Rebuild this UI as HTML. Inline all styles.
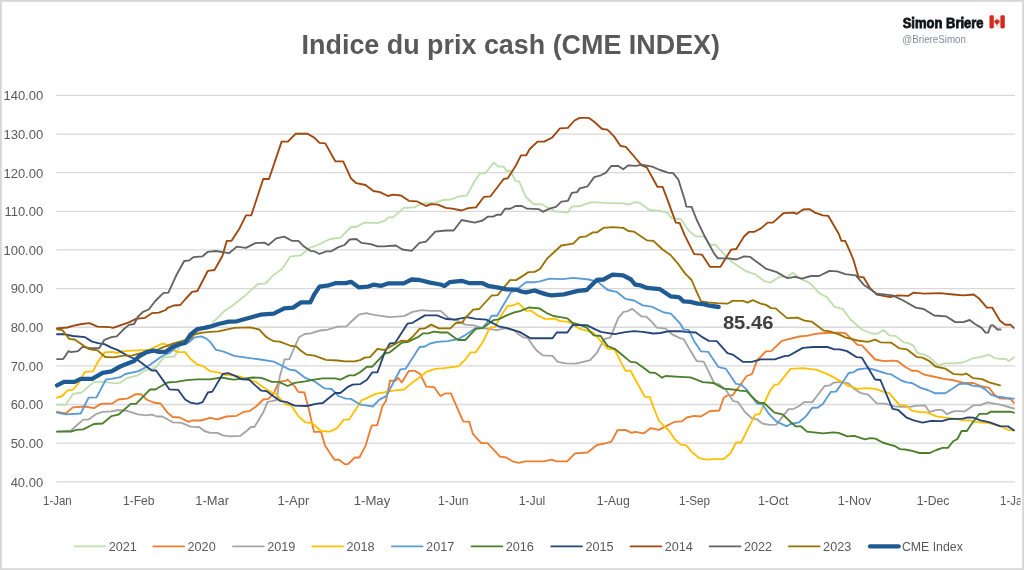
<!DOCTYPE html>
<html><head><meta charset="utf-8"><style>
html,body{margin:0;padding:0;background:#fff;}
body{width:1024px;height:570px;overflow:hidden;}
svg{display:block;filter:blur(0.3px);}
</style></head><body>
<svg width="1024" height="570" viewBox="0 0 1024 570" style="font-family:'Liberation Sans',sans-serif">
<rect x="0" y="0" width="1024" height="570" fill="#fff"/>

<line x1="56.2" y1="481.80" x2="1015" y2="481.80" stroke="#d9d9d9" stroke-width="1.3"/>
<text x="43.2" y="486.6" text-anchor="end" font-size="13" fill="#595959">40.00</text>
<line x1="56.2" y1="443.16" x2="1015" y2="443.16" stroke="#d9d9d9" stroke-width="1.3"/>
<text x="43.2" y="448.0" text-anchor="end" font-size="13" fill="#595959">50.00</text>
<line x1="56.2" y1="404.52" x2="1015" y2="404.52" stroke="#d9d9d9" stroke-width="1.3"/>
<text x="43.2" y="409.3" text-anchor="end" font-size="13" fill="#595959">60.00</text>
<line x1="56.2" y1="365.88" x2="1015" y2="365.88" stroke="#d9d9d9" stroke-width="1.3"/>
<text x="43.2" y="370.7" text-anchor="end" font-size="13" fill="#595959">70.00</text>
<line x1="56.2" y1="327.24" x2="1015" y2="327.24" stroke="#d9d9d9" stroke-width="1.3"/>
<text x="43.2" y="332.0" text-anchor="end" font-size="13" fill="#595959">80.00</text>
<line x1="56.2" y1="288.60" x2="1015" y2="288.60" stroke="#d9d9d9" stroke-width="1.3"/>
<text x="43.2" y="293.4" text-anchor="end" font-size="13" fill="#595959">90.00</text>
<line x1="56.2" y1="249.96" x2="1015" y2="249.96" stroke="#d9d9d9" stroke-width="1.3"/>
<text x="43.2" y="254.8" text-anchor="end" font-size="13" fill="#595959">100.00</text>
<line x1="56.2" y1="211.32" x2="1015" y2="211.32" stroke="#d9d9d9" stroke-width="1.3"/>
<text x="43.2" y="216.1" text-anchor="end" font-size="13" fill="#595959">110.00</text>
<line x1="56.2" y1="172.68" x2="1015" y2="172.68" stroke="#d9d9d9" stroke-width="1.3"/>
<text x="43.2" y="177.5" text-anchor="end" font-size="13" fill="#595959">120.00</text>
<line x1="56.2" y1="134.04" x2="1015" y2="134.04" stroke="#d9d9d9" stroke-width="1.3"/>
<text x="43.2" y="138.8" text-anchor="end" font-size="13" fill="#595959">130.00</text>
<line x1="56.2" y1="95.40" x2="1015" y2="95.40" stroke="#d9d9d9" stroke-width="1.3"/>
<text x="43.2" y="100.2" text-anchor="end" font-size="13" fill="#595959">140.00</text>
<g font-size="13" fill="#595959" text-anchor="middle">
<text x="57.4" y="504.9" textLength="28.7" lengthAdjust="spacingAndGlyphs">1-Jan</text>
<text x="138.7" y="504.9" textLength="31.6" lengthAdjust="spacingAndGlyphs">1-Feb</text>
<text x="212.1" y="504.9" textLength="33.7" lengthAdjust="spacingAndGlyphs">1-Mar</text>
<text x="293.4" y="504.9" textLength="31.9" lengthAdjust="spacingAndGlyphs">1-Apr</text>
<text x="372.0" y="504.9" textLength="36.6" lengthAdjust="spacingAndGlyphs">1-May</text>
<text x="453.3" y="504.9" textLength="30.4" lengthAdjust="spacingAndGlyphs">1-Jun</text>
<text x="532.0" y="504.9" textLength="26.7" lengthAdjust="spacingAndGlyphs">1-Jul</text>
<text x="613.3" y="504.9" textLength="32.9" lengthAdjust="spacingAndGlyphs">1-Aug</text>
<text x="694.5" y="504.9" textLength="31.2" lengthAdjust="spacingAndGlyphs">1-Sep</text>
<text x="773.2" y="504.9" textLength="30.5" lengthAdjust="spacingAndGlyphs">1-Oct</text>
<text x="854.5" y="504.9" textLength="33.5" lengthAdjust="spacingAndGlyphs">1-Nov</text>
<text x="933.1" y="504.9" textLength="32.5" lengthAdjust="spacingAndGlyphs">1-Dec</text>
<text x="1014.4" y="504.9" textLength="28.7" lengthAdjust="spacingAndGlyphs">1-Jan</text>
</g>
<g fill="none" stroke-linejoin="round" stroke-linecap="round">
<path d="M57.0,404.7 L65.8,404.7 L72.8,393.9 L81.6,392.5 L93.9,381.9 L102.6,381.6 L114.9,383.3 L120.2,382.8 L127.2,378.1 L137.7,375.3 L144.7,370.5 L155.3,367.9 L164.0,357.4 L174.6,356.5 L179.8,346.0 L188.6,341.6 L195.6,332.8 L202.6,329.3 L210.0,327.5 L213.2,322.1 L223.7,311.6 L231.6,306.3 L243.4,297.1 L257.9,284.0 L265.8,283.4 L273.7,274.7 L281.6,269.5 L290.5,256.3 L301.0,255.3 L309.0,248.2 L316.8,245.5 L330.0,239.0 L340.5,237.6 L351.0,227.0 L356.3,227.0 L364.2,222.6 L377.4,223.2 L385.3,220.5 L388.0,217.4 L393.2,217.4 L403.7,207.9 L414.2,207.4 L422.1,203.4 L435.3,202.6 L443.2,200.0 L451.0,199.5 L459.0,196.3 L466.8,195.5 L474.7,181.0 L480.0,173.2 L485.3,173.2 L493.7,162.6 L498.4,166.6 L503.7,166.6 L506.3,171.0 L510.3,170.5 L515.5,181.0 L519.2,181.6 L525.8,196.8 L533.7,204.2 L541.6,204.2 L554.7,211.3 L567.9,212.6 L571.8,206.6 L579.7,206.0 L591.6,202.1 L604.7,202.9 L623.2,203.4 L628.4,204.7 L635.0,202.1 L639.0,202.6 L649.5,210.0 L660.0,210.8 L667.9,213.2 L671.8,218.4 L681.0,219.2 L689.0,231.0 L695.5,236.3 L703.4,236.3 L710.0,244.7 L715.3,244.7 L728.4,258.9 L739.0,266.8 L745.3,270.8 L755.8,274.7 L763.7,280.8 L770.3,282.6 L779.5,276.8 L787.4,276.8 L792.6,272.6 L800.5,278.7 L811.0,283.9 L819.0,293.2 L826.8,297.1 L834.7,306.8 L842.6,308.9 L850.5,319.5 L861.0,328.7 L862.8,330.0 L871.6,333.5 L876.8,333.9 L883.9,330.0 L889.1,335.3 L896.1,336.1 L903.2,342.3 L908.4,343.2 L913.7,345.8 L917.2,352.8 L924.2,354.6 L929.5,357.2 L938.2,365.1 L945.3,363.3 L954.0,363.3 L962.8,362.5 L973.3,358.1 L980.4,357.2 L989.1,354.6 L994.4,358.1 L1000.0,358.9 L1005.9,359.0 L1009.0,361.1 L1014.3,357.3" stroke="#c0deae" stroke-width="1.85"/>
<path d="M57.0,411.8 L65.8,413.5 L72.8,407.4 L85.1,406.5 L93.9,408.2 L100.9,403.9 L112.3,403.5 L118.4,399.5 L127.2,398.6 L136.0,394.2 L141.2,394.2 L146.5,399.5 L153.5,402.5 L160.5,403.5 L167.5,412.6 L172.8,417.0 L179.8,417.5 L188.6,421.8 L192.1,420.5 L200.9,420.5 L210.0,417.9 L217.5,419.3 L226.3,416.5 L236.8,415.8 L243.9,411.8 L249.1,411.2 L256.1,406.5 L263.2,399.5 L268.4,398.9 L273.7,393.3 L278.9,381.9 L286.0,380.7 L287.7,379.6 L294.7,386.3 L298.2,391.9 L304.4,392.5 L308.8,409.1 L314.0,431.9 L321.1,431.9 L325.0,445.6 L334.4,459.7 L339.0,459.7 L345.3,464.4 L348.4,463.8 L354.7,457.5 L359.4,457.5 L365.6,445.6 L370.3,430.0 L371.9,425.3 L377.2,425.3 L382.5,406.0 L386.0,400.7 L390.0,380.7 L395.6,380.7 L398.2,377.9 L401.8,382.5 L408.8,370.9 L414.9,370.9 L420.2,374.0 L426.3,386.7 L434.2,387.2 L440.4,396.0 L445.6,393.3 L450.9,393.3 L457.0,407.4 L463.2,421.4 L469.3,421.8 L472.8,433.7 L475.0,436.3 L481.3,443.1 L487.5,443.1 L500.0,456.6 L506.3,457.5 L512.5,461.3 L518.8,462.8 L525.0,461.3 L543.8,461.3 L551.6,459.7 L556.3,461.3 L567.2,461.3 L575.0,453.4 L587.5,452.5 L596.9,445.0 L606.3,443.1 L611.4,441.6 L617.5,430.2 L625.4,429.8 L631.6,432.8 L635.1,431.9 L643.9,433.3 L650.9,428.1 L658.8,429.8 L665.8,426.3 L674.6,421.8 L681.6,421.4 L686.8,417.5 L693.9,415.8 L700.9,416.5 L709.6,411.2 L719.3,410.5 L723.7,397.7 L727.2,395.4 L732.5,395.4 L737.9,388.2 L746.7,376.0 L751.9,374.2 L757.2,360.2 L766.0,351.4 L771.2,351.1 L781.8,340.9 L788.8,339.1 L799.3,336.5 L808.1,335.6 L815.1,333.9 L825.6,333.0 L840.0,332.6 L845.3,333.2 L852.3,339.6 L857.5,344.9 L861.9,345.4 L875.1,359.5 L883.9,361.2 L892.6,360.7 L897.9,361.2 L904.9,366.8 L911.9,370.7 L917.2,370.7 L924.2,374.7 L933.0,376.5 L945.3,379.1 L952.3,380.0 L962.8,382.6 L973.3,383.0 L980.4,385.8 L989.1,387.9 L994.4,394.9 L1000.0,398.4 L1001.7,398.6 L1008.0,398.6 L1011.1,399.4 L1013.9,402.8" stroke="#ed7d31" stroke-width="1.85"/>
<path d="M57.0,431.6 L71.0,430.5 L76.3,425.8 L83.3,419.6 L88.6,419.6 L95.6,414.4 L102.6,411.8 L111.4,411.4 L118.4,410.0 L127.2,410.9 L137.7,414.4 L146.5,415.3 L151.8,414.7 L157.0,416.5 L162.3,416.5 L172.8,422.3 L181.6,422.8 L190.4,426.7 L199.1,427.0 L204.4,431.0 L210.0,432.8 L217.5,432.8 L222.8,435.4 L229.8,436.3 L240.4,435.8 L247.4,430.2 L250.9,427.0 L254.4,427.0 L263.2,412.6 L267.5,401.8 L271.9,401.2 L276.8,400.0 L279.7,376.9 L284.5,359.5 L289.3,359.1 L295.1,346.0 L299.0,337.3 L304.7,334.0 L310.5,333.4 L320.2,330.5 L327.9,329.6 L337.6,326.7 L346.3,326.3 L353.0,320.0 L358.8,314.7 L366.5,313.2 L370.0,314.1 L377.5,315.4 L389.8,317.2 L403.9,316.1 L412.6,311.9 L421.4,310.2 L430.2,310.9 L440.7,310.9 L447.7,317.5 L458.2,321.1 L465.3,324.6 L474.0,325.4 L482.8,328.1 L496.8,330.2 L505.6,328.1 L514.4,330.7 L520.0,335.3 L523.5,337.4 L527.9,338.2 L533.2,346.1 L536.7,350.5 L542.8,355.3 L552.5,355.8 L557.7,361.9 L565.6,363.3 L576.1,363.7 L590.2,360.2 L597.2,352.3 L604.2,339.1 L610.4,337.4 L618.2,318.1 L623.5,311.9 L627.0,311.4 L632.3,308.9 L641.1,316.3 L646.3,316.7 L651.6,321.6 L656.8,327.7 L665.6,328.6 L672.6,334.7 L680.0,338.2 L683.5,339.1 L688.8,347.9 L696.7,361.1 L703.7,361.6 L708.1,370.7 L714.2,383.0 L719.5,384.7 L725.6,389.6 L733.3,401.2 L737.7,401.8 L744.7,411.8 L751.8,418.2 L757.0,419.3 L762.3,423.5 L769.3,424.9 L776.3,424.6 L781.6,417.9 L788.6,409.1 L793.9,408.8 L799.1,406.0 L804.4,402.1 L812.3,402.1 L824.6,386.0 L829.8,385.4 L833.3,382.8 L840.0,381.8 L848.8,383.5 L854.0,388.8 L861.1,393.2 L868.1,394.6 L876.8,403.3 L885.6,403.7 L894.4,406.3 L901.4,406.8 L910.2,406.8 L915.4,405.8 L925.1,405.4 L929.5,412.1 L936.5,409.8 L941.8,409.8 L947.0,414.2 L954.0,411.1 L961.1,411.1 L964.6,411.6 L973.3,405.4 L980.4,405.1 L987.4,402.3 L994.4,403.7 L1000.0,404.6 L1013.9,408.5" stroke="#a5a5a5" stroke-width="1.85"/>
<path d="M57.0,397.7 L62.3,396.0 L67.5,390.4 L72.8,389.8 L78.1,383.7 L85.1,371.8 L93.0,371.4 L97.4,362.6 L104.4,352.5 L113.2,351.8 L116.7,353.0 L123.7,351.2 L137.7,350.4 L148.2,350.0 L155.3,346.8 L162.3,343.7 L165.8,344.2 L172.8,350.0 L178.1,352.1 L185.1,352.1 L190.4,358.8 L197.4,364.7 L202.6,365.8 L210.0,371.1 L219.3,372.6 L224.6,374.9 L231.6,375.4 L240.4,376.7 L247.4,379.6 L256.1,381.9 L263.2,387.2 L271.9,392.5 L275.4,393.7 L282.5,401.2 L286.0,404.7 L291.2,405.3 L298.2,416.1 L305.3,422.3 L312.3,423.2 L321.1,431.0 L329.8,431.6 L336.8,428.4 L343.9,419.6 L349.1,419.6 L356.1,409.1 L361.4,400.4 L363.5,399.6 L375.8,393.9 L382.8,392.6 L395.1,390.4 L403.9,389.5 L412.6,382.5 L419.6,377.2 L426.7,371.6 L435.4,368.8 L444.2,368.1 L458.2,366.3 L465.3,359.6 L470.5,352.3 L475.8,352.3 L482.8,342.1 L489.8,327.7 L495.1,327.2 L499.0,318.8 L507.6,305.9 L512.5,305.5 L518.6,303.1 L526.0,310.8 L530.9,310.4 L537.1,315.1 L540.0,316.3 L544.6,318.9 L555.1,318.9 L560.4,321.2 L567.4,321.6 L572.6,323.7 L579.6,328.9 L586.7,330.7 L593.7,333.0 L600.7,340.9 L607.7,348.8 L614.7,349.6 L621.8,363.7 L625.3,370.7 L630.5,370.7 L641.1,390.0 L644.7,396.8 L650.0,397.2 L653.5,407.4 L658.8,420.5 L664.0,426.3 L669.3,431.0 L674.6,439.0 L680.7,444.6 L686.0,445.1 L692.1,452.1 L699.1,458.2 L706.1,459.6 L713.2,459.1 L723.7,459.1 L730.7,453.0 L736.0,442.5 L741.2,442.5 L748.2,428.4 L755.3,414.4 L759.6,414.4 L765.8,399.5 L770.4,390.0 L774.7,384.7 L778.2,384.4 L790.5,368.9 L802.8,368.1 L816.8,369.8 L827.4,374.2 L834.4,377.7 L840.0,380.9 L847.0,385.3 L857.5,388.8 L866.3,388.2 L875.1,388.8 L883.9,391.8 L889.1,393.2 L899.6,405.1 L906.7,405.8 L911.9,410.7 L918.9,412.1 L926.0,412.1 L936.5,416.3 L945.3,417.7 L954.0,418.6 L962.8,420.4 L969.8,420.4 L976.8,422.1 L989.1,423.0 L1000.0,426.1 L1002.7,427.5 L1009.0,430.2 L1013.9,430.6" stroke="#ffc000" stroke-width="1.85"/>
<path d="M57.0,412.6 L65.8,414.4 L80.7,413.5 L88.6,397.7 L96.5,397.4 L106.1,379.3 L111.4,378.9 L120.2,377.2 L125.4,374.0 L137.7,371.4 L148.2,366.1 L155.3,360.9 L162.3,356.0 L169.3,353.0 L176.3,347.2 L183.3,343.0 L188.6,342.5 L193.9,337.7 L200.9,336.3 L206.1,338.4 L210.0,341.6 L215.8,349.7 L223.7,351.6 L234.2,355.8 L250.0,358.2 L260.5,359.5 L273.7,361.6 L281.6,365.5 L289.5,369.6 L295.6,370.5 L305.3,377.9 L314.0,381.1 L324.6,388.4 L331.6,389.0 L338.6,396.0 L345.6,398.6 L350.9,398.9 L360.5,404.7 L367.5,405.6 L372.8,406.5 L379.3,399.6 L386.3,396.1 L400.4,369.3 L405.6,368.8 L419.6,347.0 L424.9,346.5 L430.2,343.5 L437.2,341.8 L447.7,341.2 L458.2,339.0 L465.3,335.1 L475.8,328.1 L482.8,327.7 L489.1,320.0 L491.6,315.7 L497.1,315.7 L511.3,291.8 L514.9,291.2 L519.9,286.9 L526.0,282.2 L534.6,282.2 L540.0,281.3 L549.5,278.7 L562.6,279.2 L573.2,277.9 L589.0,279.5 L598.2,282.1 L607.7,290.0 L616.5,291.8 L625.3,298.8 L634.0,300.5 L642.8,305.4 L651.6,306.7 L663.9,312.5 L670.9,313.7 L680.0,323.3 L683.5,329.5 L688.8,330.0 L694.0,340.9 L701.1,351.4 L708.1,351.8 L718.6,367.2 L725.6,368.6 L736.1,383.9 L741.4,384.7 L746.7,389.6 L750.0,394.2 L757.0,403.5 L762.3,404.2 L769.3,414.4 L776.3,421.4 L786.8,426.3 L790.4,424.0 L799.1,422.3 L806.1,416.1 L812.3,407.7 L817.5,407.7 L822.8,403.9 L830.7,391.9 L836.0,391.6 L840.0,386.1 L848.8,373.0 L854.0,372.1 L857.5,369.5 L868.1,368.2 L875.1,370.0 L887.4,373.9 L890.9,374.2 L901.4,380.5 L906.7,382.3 L911.9,383.0 L920.7,387.9 L927.7,390.0 L934.7,393.2 L945.3,393.2 L952.3,388.8 L959.3,384.0 L966.3,383.5 L973.3,385.8 L980.4,386.5 L985.6,389.6 L990.9,394.6 L997.9,397.0 L1000.0,396.7 L1005.9,398.0 L1013.9,398.6" stroke="#5b9bd5" stroke-width="1.85"/>
<path d="M57.0,431.6 L71.0,431.6 L76.3,429.8 L83.3,429.3 L93.9,424.0 L102.6,423.5 L111.4,416.1 L118.4,414.7 L130.7,403.9 L136.0,403.9 L150.0,389.5 L155.3,389.5 L167.5,382.5 L176.3,381.9 L186.8,380.2 L197.4,379.3 L210.0,379.3 L221.1,377.5 L233.3,379.6 L242.1,378.9 L252.6,377.5 L261.4,377.9 L271.9,381.9 L278.9,381.9 L287.7,386.0 L294.7,382.8 L305.3,381.4 L314.0,379.6 L322.8,378.4 L335.1,378.4 L340.4,379.6 L349.1,375.4 L354.4,375.4 L360.0,372.3 L367.0,366.7 L372.3,366.7 L384.6,353.5 L389.8,352.3 L402.1,342.5 L407.4,342.1 L417.9,337.2 L423.2,333.3 L428.4,333.3 L433.7,331.6 L440.7,332.5 L447.7,332.5 L454.7,337.7 L458.2,340.0 L465.3,340.0 L475.8,328.9 L482.8,328.1 L493.3,320.2 L498.6,319.3 L505.6,315.8 L514.4,312.3 L520.0,311.1 L528.8,307.5 L539.3,308.4 L546.3,312.8 L553.3,316.0 L560.4,317.2 L567.4,318.4 L572.6,323.0 L577.9,324.2 L586.7,327.7 L593.7,335.3 L600.7,336.0 L607.7,346.1 L614.7,348.8 L625.3,357.5 L630.5,361.9 L635.8,362.3 L642.8,367.2 L649.8,372.5 L655.1,372.8 L662.1,377.7 L665.6,376.0 L680.0,376.8 L690.5,377.4 L702.8,382.1 L713.3,383.0 L723.9,388.6 L737.9,390.0 L739.5,390.7 L746.5,391.2 L755.3,400.0 L759.6,403.0 L764.0,403.0 L774.6,412.6 L782.5,414.4 L790.4,421.8 L795.6,426.3 L800.9,426.3 L807.0,431.6 L814.0,432.3 L822.8,433.3 L833.3,432.3 L838.6,432.8 L847.4,436.3 L854.4,435.8 L864.9,439.3 L870.2,438.1 L875.4,438.6 L882.5,442.5 L889.5,444.6 L894.7,446.0 L900.0,449.1 L905.3,449.5 L912.3,450.9 L919.3,453.0 L929.8,453.0 L936.3,450.0 L942.6,447.9 L947.9,447.9 L953.2,441.2 L957.4,439.0 L961.6,431.0 L966.9,431.0 L972.1,423.2 L979.5,413.8 L986.9,413.8 L991.1,411.7 L1009.8,411.7 L1013.9,412.7" stroke="#4b7f2a" stroke-width="1.85"/>
<path d="M57.0,334.2 L64.0,334.2 L72.8,336.0 L85.1,337.2 L92.1,341.6 L99.1,343.3 L104.4,344.2 L111.4,347.7 L118.4,350.4 L128.9,356.5 L137.7,360.0 L144.7,365.3 L151.8,370.5 L156.1,370.5 L164.0,381.6 L169.3,389.3 L178.1,389.8 L185.1,399.5 L190.4,402.6 L197.4,403.9 L202.6,402.1 L207.9,392.5 L212.3,391.6 L222.8,374.0 L228.1,373.2 L235.1,375.8 L242.1,379.3 L249.1,379.6 L254.4,384.6 L261.4,390.7 L266.7,391.2 L273.7,396.5 L280.7,401.2 L286.0,401.8 L294.7,405.6 L307.0,406.0 L315.8,403.9 L322.8,403.0 L335.1,393.0 L340.4,393.0 L347.4,387.2 L352.6,384.6 L360.0,384.2 L367.0,379.8 L372.3,372.3 L377.5,372.3 L384.6,352.6 L389.8,343.5 L395.1,343.0 L407.4,323.7 L412.6,322.8 L424.9,315.4 L437.2,315.4 L446.0,319.0 L454.7,319.6 L467.0,317.2 L475.8,318.9 L486.3,319.6 L498.6,326.3 L507.4,328.1 L520.0,332.1 L530.5,338.2 L552.5,338.2 L556.8,332.5 L567.4,332.5 L572.6,325.1 L586.7,325.1 L593.7,328.6 L600.7,331.8 L614.7,334.2 L625.3,332.1 L634.0,331.2 L642.8,331.8 L653.3,333.5 L660.4,333.0 L669.1,331.2 L680.0,331.2 L685.3,331.8 L695.8,332.5 L702.8,337.4 L708.9,340.9 L716.8,341.2 L727.4,353.2 L732.6,354.6 L743.2,361.9 L751.9,361.9 L760.7,359.3 L774.7,359.3 L785.3,355.8 L788.8,355.8 L802.8,347.9 L813.3,347.0 L827.4,347.0 L834.4,349.3 L840.0,349.3 L847.0,351.1 L856.7,357.2 L861.9,357.7 L875.1,379.5 L880.4,380.0 L892.6,408.9 L897.9,409.8 L906.7,417.7 L913.7,420.4 L922.5,422.6 L931.2,420.9 L941.8,421.2 L948.8,419.1 L962.8,418.6 L968.1,417.4 L973.3,417.7 L980.4,420.4 L989.1,422.1 L1000.0,426.1 L1008.0,426.4 L1013.9,430.2" stroke="#264478" stroke-width="1.85"/>
<path d="M57.0,328.4 L67.5,327.5 L72.8,325.8 L81.6,324.0 L89.5,323.2 L97.4,326.7 L109.6,327.2 L113.2,327.9 L120.2,325.4 L128.9,322.3 L136.0,318.8 L144.7,317.9 L151.8,313.2 L158.8,312.6 L165.8,310.0 L167.1,308.2 L173.7,305.5 L180.3,305.0 L185.5,299.0 L192.1,291.8 L197.4,291.0 L207.9,270.8 L214.5,270.0 L222.4,256.0 L226.8,240.8 L231.6,240.8 L239.5,228.4 L246.0,215.3 L251.3,215.3 L263.2,179.0 L269.0,179.0 L281.6,141.6 L287.9,141.6 L295.8,133.7 L307.6,133.7 L314.2,137.6 L319.5,142.9 L325.3,143.4 L335.3,161.3 L343.2,161.3 L351.0,178.4 L356.3,183.2 L365.5,185.0 L373.4,191.0 L380.0,192.1 L387.9,196.0 L393.2,194.7 L401.0,195.5 L408.9,200.8 L416.8,201.3 L426.0,206.0 L431.3,204.2 L437.9,204.7 L445.8,207.9 L452.4,208.7 L461.6,210.5 L468.2,208.2 L476.0,207.4 L484.0,196.8 L490.5,196.3 L503.7,179.0 L507.6,178.4 L515.3,166.6 L521.0,155.3 L526.3,155.3 L529.7,149.0 L537.6,141.6 L544.2,141.6 L552.1,137.6 L560.0,128.4 L567.9,127.9 L574.5,120.5 L579.7,117.9 L589.0,117.9 L594.2,121.8 L602.1,129.0 L607.4,129.7 L614.0,136.3 L620.5,146.0 L625.8,146.8 L633.7,156.0 L641.6,165.3 L646.8,167.4 L657.4,186.8 L662.6,186.8 L667.9,200.8 L675.8,222.6 L679.7,223.2 L685.0,235.8 L694.2,254.2 L702.1,254.7 L710.0,266.8 L720.5,266.8 L731.0,249.7 L736.3,249.0 L744.2,236.3 L749.2,231.8 L754.5,231.8 L761.0,228.4 L767.6,222.6 L772.9,222.6 L783.4,213.2 L794.0,212.6 L796.6,213.9 L803.2,209.5 L809.7,209.2 L815.0,212.6 L822.9,215.3 L828.2,215.8 L838.7,233.7 L841.3,240.8 L845.3,240.8 L853.2,259.0 L858.4,276.8 L863.7,277.4 L870.3,288.4 L876.8,294.5 L890.0,297.1 L897.9,295.3 L908.4,295.8 L913.7,292.6 L924.2,293.7 L940.0,293.2 L953.2,294.5 L963.2,295.3 L973.7,294.5 L979.0,298.4 L986.8,307.6 L992.1,307.6 L1000.0,320.8 L1005.3,324.7 L1010.5,324.7 L1013.7,327.9" stroke="#9e480e" stroke-width="1.85"/>
<path d="M57.0,359.1 L63.2,359.1 L68.4,351.2 L71.0,352.1 L78.1,351.2 L82.5,346.8 L90.4,348.2 L99.1,348.2 L104.4,339.8 L111.4,337.2 L116.7,336.3 L123.7,329.3 L128.9,324.9 L134.2,324.0 L137.7,317.0 L143.0,311.8 L148.7,309.5 L155.3,301.0 L163.2,293.2 L168.4,292.6 L176.3,275.3 L184.2,261.0 L189.5,260.3 L193.4,257.1 L202.6,256.3 L207.9,251.8 L215.8,251.0 L229.0,253.2 L236.8,246.6 L246.0,247.9 L255.3,243.2 L264.5,242.6 L268.4,245.0 L276.3,238.4 L284.2,236.6 L291.8,240.8 L298.4,240.8 L303.7,246.3 L310.3,250.8 L314.2,251.3 L319.5,254.0 L326.0,251.3 L331.3,251.3 L337.9,247.4 L344.5,245.0 L349.7,239.5 L356.3,239.0 L361.6,242.9 L370.8,244.2 L377.4,246.3 L384.0,246.3 L395.8,245.5 L402.4,249.5 L411.6,250.8 L419.5,242.9 L426.0,241.6 L435.3,231.6 L445.8,230.5 L453.7,230.5 L461.6,220.0 L474.7,222.6 L482.6,220.5 L487.9,216.6 L493.2,216.6 L497.1,214.7 L501.0,214.7 L505.0,208.7 L510.3,208.7 L515.5,206.0 L521.8,206.0 L527.1,208.7 L539.0,209.2 L542.9,211.8 L549.5,208.7 L556.0,206.8 L561.3,201.6 L567.9,200.8 L571.8,192.9 L577.1,192.1 L579.7,188.4 L587.6,186.3 L594.2,177.1 L600.8,175.3 L606.0,172.6 L611.3,166.0 L617.9,165.8 L623.2,169.2 L628.4,165.3 L636.3,165.8 L641.6,164.7 L652.1,166.6 L660.0,170.0 L667.9,172.6 L673.2,173.2 L678.4,179.7 L685.0,200.8 L686.3,206.6 L691.6,206.8 L696.8,220.0 L704.7,236.3 L714.0,253.4 L717.9,258.4 L728.4,258.4 L736.3,259.5 L744.2,256.3 L750.0,256.8 L754.5,260.3 L766.3,268.9 L776.8,272.1 L787.4,278.2 L795.3,276.8 L801.8,278.7 L811.0,276.0 L819.0,276.0 L829.5,270.8 L837.4,271.3 L845.3,274.2 L855.8,275.3 L863.7,284.7 L876.8,293.7 L892.6,295.3 L903.2,300.5 L915.8,307.6 L923.7,309.0 L934.2,315.5 L946.0,316.3 L955.3,322.1 L963.2,322.1 L969.7,320.0 L975.0,324.0 L981.6,327.9 L985.5,332.6 L988.2,332.6 L990.8,325.3 L993.4,325.3 L997.4,329.5 L1000.5,329.5" stroke="#636363" stroke-width="1.85"/>
<path d="M57.0,329.3 L62.3,330.2 L69.3,338.9 L74.6,339.5 L88.6,349.0 L97.4,350.4 L105.3,357.0 L113.2,357.4 L123.7,355.6 L132.5,355.3 L144.7,352.1 L155.3,350.7 L162.3,347.7 L172.8,343.7 L181.6,341.2 L190.4,338.4 L193.9,334.6 L200.9,332.8 L210.0,331.9 L218.4,331.3 L234.2,327.9 L250.0,327.4 L259.2,329.5 L265.8,336.6 L270.0,339.2 L273.9,341.2 L279.7,341.7 L291.2,346.0 L296.1,346.4 L300.9,350.8 L306.7,354.7 L314.4,355.6 L326.0,359.9 L337.6,360.5 L345.3,361.4 L354.9,361.4 L360.7,359.9 L364.6,357.6 L370.0,357.2 L377.5,348.8 L384.6,350.0 L389.8,347.0 L401.2,340.7 L407.4,341.2 L412.6,336.8 L419.6,328.9 L424.9,328.4 L431.1,324.6 L438.9,328.4 L450.4,328.4 L455.6,323.2 L462.6,322.5 L464.6,318.8 L473.2,309.6 L479.3,309.0 L491.6,295.5 L497.7,295.2 L510.0,280.1 L516.2,280.1 L528.5,272.1 L534.6,271.9 L540.0,269.0 L546.8,258.9 L561.3,245.5 L573.2,243.7 L579.7,237.1 L586.3,236.3 L592.9,232.4 L596.8,232.4 L603.4,227.9 L612.6,227.1 L623.2,227.9 L628.4,231.0 L633.7,231.6 L646.8,240.3 L653.4,240.8 L662.6,249.5 L670.5,255.0 L678.4,264.2 L685.0,273.4 L691.6,280.0 L695.8,290.0 L701.1,301.4 L708.1,302.3 L716.8,303.2 L727.4,303.7 L732.6,300.9 L743.2,300.9 L747.5,302.6 L752.8,300.2 L760.7,303.7 L766.0,304.9 L771.2,308.1 L775.6,308.4 L787.0,318.1 L797.5,317.7 L804.6,320.7 L811.6,321.6 L823.9,330.7 L829.1,331.2 L840.0,334.9 L845.3,337.4 L857.5,340.5 L868.1,341.9 L875.1,339.6 L880.4,342.3 L890.9,342.6 L899.6,348.4 L906.7,349.3 L917.2,357.2 L922.5,357.7 L929.5,361.2 L935.6,366.5 L945.3,368.6 L954.0,374.2 L962.8,374.7 L966.3,373.5 L973.3,378.2 L982.1,379.1 L989.1,382.3 L1000.0,385.3" stroke="#997300" stroke-width="1.85"/>
<path d="M57.0,385.4 L64.0,381.9 L74.6,381.9 L80.7,378.8 L92.1,378.8 L102.6,372.8 L111.4,371.4 L120.2,366.5 L128.9,363.0 L134.2,360.9 L139.5,356.0 L146.5,352.1 L153.5,350.7 L158.8,351.8 L165.8,351.8 L172.8,346.8 L179.8,344.2 L185.1,343.0 L190.4,334.6 L197.4,329.0 L204.4,327.9 L210.0,326.7 L218.4,324.0 L228.9,321.6 L236.8,321.3 L246.0,318.7 L260.5,314.7 L273.7,313.7 L284.2,308.4 L293.2,307.6 L301.0,302.4 L310.3,302.4 L314.2,294.5 L319.5,286.6 L328.7,285.3 L335.3,283.2 L345.8,283.2 L351.0,281.8 L359.0,287.4 L368.2,286.6 L373.4,284.7 L381.3,285.8 L387.9,283.4 L403.7,283.4 L411.6,279.5 L419.5,280.0 L430.0,282.6 L440.5,284.5 L444.5,286.0 L449.7,282.1 L461.6,280.8 L469.5,283.2 L482.6,283.2 L487.9,285.8 L501.4,288.1 L506.3,289.3 L516.2,289.6 L521.1,291.5 L526.0,292.4 L534.6,290.5 L540.0,292.4 L546.3,294.4 L551.6,295.3 L563.9,294.4 L570.9,292.6 L577.9,290.9 L586.7,290.0 L596.8,280.0 L603.4,279.5 L612.6,274.7 L623.2,275.3 L631.0,279.5 L635.0,284.5 L640.3,285.3 L646.8,287.9 L660.0,289.2 L670.5,296.3 L678.4,297.1 L680.0,297.9 L683.5,301.4 L690.5,301.9 L697.5,303.7 L702.8,304.0 L708.1,305.4 L718.6,307.0" stroke="#1f5a93" stroke-width="4.3"/>
</g>
<text x="722.9" y="329.4" font-size="17.5" font-weight="bold" fill="#404040" textLength="50.5" lengthAdjust="spacingAndGlyphs">85.46</text>
<text x="301.6" y="53.9" font-size="27" font-weight="bold" fill="#595959" textLength="418.4" lengthAdjust="spacingAndGlyphs">Indice du prix cash (CME INDEX)</text>
<text x="902.7" y="27.5" font-size="14" font-weight="bold" fill="#0f1419" stroke="#0f1419" stroke-width="0.8" textLength="80.9" lengthAdjust="spacingAndGlyphs">Simon Briere</text>
<text x="902.3" y="42.8" font-size="10.5" fill="#7d8d9a" textLength="63.7" lengthAdjust="spacingAndGlyphs">@BriereSimon</text>
<g><rect x="993.5" y="15.5" width="7" height="12.9" fill="#edf1f1"/><rect x="989.5" y="15.3" width="4.3" height="13.2" rx="1.4" fill="#d8261c"/><rect x="1000.4" y="15.3" width="4.4" height="13.2" rx="1.4" fill="#d8261c"/><path d="M997,18.4 L998.1,20.3 L1000.1,20.8 L999.3,22.6 L998,24 L997.35,24.2 L997.35,26 L996.65,26 L996.65,24.2 L996,24 L994.7,22.6 L993.9,20.8 L995.9,20.3 Z" fill="#d52b1e"/></g>
<g font-size="13" fill="#595959">
<line x1="74.5" y1="546.4" x2="105.3" y2="546.4" stroke="#c0deae" stroke-width="1.7" stroke-linecap="round"/>
<text x="108.7" y="551.4" textLength="28.2" lengthAdjust="spacingAndGlyphs">2021</text>
<line x1="153.3" y1="546.4" x2="184.1" y2="546.4" stroke="#ed7d31" stroke-width="1.7" stroke-linecap="round"/>
<text x="187.5" y="551.4" textLength="28.2" lengthAdjust="spacingAndGlyphs">2020</text>
<line x1="233.0" y1="546.4" x2="263.8" y2="546.4" stroke="#a5a5a5" stroke-width="1.7" stroke-linecap="round"/>
<text x="267.2" y="551.4" textLength="28.2" lengthAdjust="spacingAndGlyphs">2019</text>
<line x1="312.2" y1="546.4" x2="343.0" y2="546.4" stroke="#ffc000" stroke-width="1.7" stroke-linecap="round"/>
<text x="346.4" y="551.4" textLength="28.2" lengthAdjust="spacingAndGlyphs">2018</text>
<line x1="391.9" y1="546.4" x2="422.7" y2="546.4" stroke="#5b9bd5" stroke-width="1.7" stroke-linecap="round"/>
<text x="426.1" y="551.4" textLength="28.2" lengthAdjust="spacingAndGlyphs">2017</text>
<line x1="471.5" y1="546.4" x2="502.3" y2="546.4" stroke="#4b7f2a" stroke-width="1.7" stroke-linecap="round"/>
<text x="505.7" y="551.4" textLength="28.2" lengthAdjust="spacingAndGlyphs">2016</text>
<line x1="551.2" y1="546.4" x2="582.0" y2="546.4" stroke="#264478" stroke-width="1.7" stroke-linecap="round"/>
<text x="585.4" y="551.4" textLength="28.2" lengthAdjust="spacingAndGlyphs">2015</text>
<line x1="630.5" y1="546.4" x2="661.3" y2="546.4" stroke="#9e480e" stroke-width="1.7" stroke-linecap="round"/>
<text x="664.7" y="551.4" textLength="28.2" lengthAdjust="spacingAndGlyphs">2014</text>
<line x1="709.7" y1="546.4" x2="740.5" y2="546.4" stroke="#636363" stroke-width="1.7" stroke-linecap="round"/>
<text x="743.9" y="551.4" textLength="28.2" lengthAdjust="spacingAndGlyphs">2022</text>
<line x1="788.9" y1="546.4" x2="819.7" y2="546.4" stroke="#997300" stroke-width="1.7" stroke-linecap="round"/>
<text x="823.1" y="551.4" textLength="28.2" lengthAdjust="spacingAndGlyphs">2023</text>
<line x1="870" y1="546.4" x2="898.7" y2="546.4" stroke="#1f5a93" stroke-width="4.3" stroke-linecap="round"/>
<text x="901.9" y="551.4" textLength="60.9" lengthAdjust="spacingAndGlyphs">CME Index</text>
</g>
<rect x="1020.4" y="0" width="4" height="570" fill="#fff"/>
<rect x="0.9" y="0.9" width="1022.2" height="568.2" fill="none" stroke="#d6d6d6" stroke-width="1.8"/>
</svg></body></html>
